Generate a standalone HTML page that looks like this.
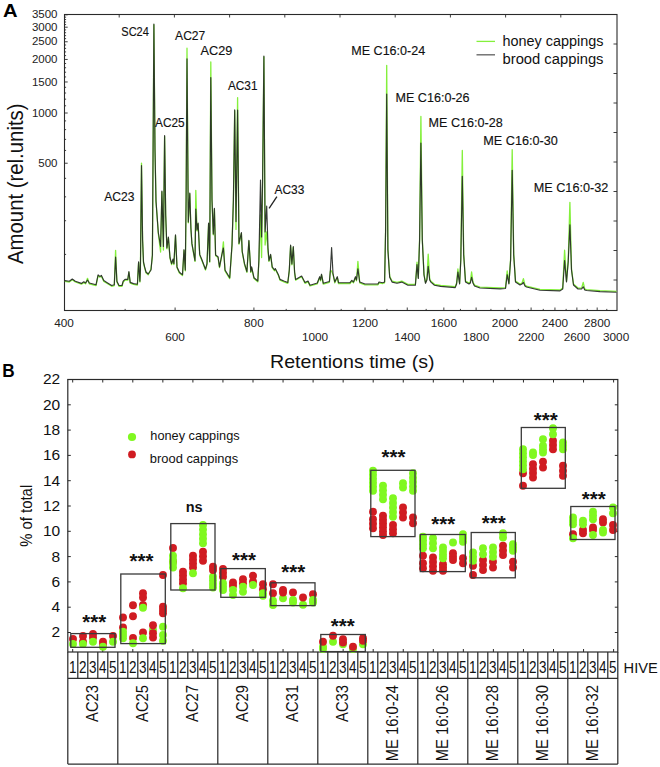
<!DOCTYPE html>
<html><head><meta charset="utf-8"><style>
html,body{margin:0;padding:0;background:#fff;}
svg{display:block;font-family:"Liberation Sans", sans-serif;}
</style></head><body>
<svg width="660" height="767" viewBox="0 0 660 767">
<rect width="660" height="767" fill="#fff"/>
<rect x="64.5" y="14.5" width="552.5" height="296.0" fill="none" stroke="#2a2a2a" stroke-width="1.1"/>
<path d="M64.5,254.42h1.6 M64.5,220.73h1.6 M64.5,196.85h1.6 M64.5,178.34h1.6 M64.5,163.23h3.2 M64.5,150.45h1.6 M64.5,139.38h1.6 M64.5,129.62h1.6 M64.5,120.90h1.6 M64.5,113.00h3.2 M64.5,105.79h1.6 M64.5,99.16h1.6 M64.5,93.03h1.6 M64.5,87.31h1.6 M64.5,81.97h3.2 M64.5,76.95h1.6 M64.5,72.21h1.6 M64.5,67.74h1.6 M64.5,63.49h1.6 M64.5,59.45h3.2 M64.5,55.60h1.6 M64.5,51.92h1.6 M64.5,48.39h1.6 M64.5,45.01h1.6 M64.5,41.77h3.2 M64.5,38.64h1.6 M64.5,35.63h1.6 M64.5,32.73h1.6 M64.5,29.92h1.6 M64.5,27.20h3.2 M64.5,24.58h1.6 M64.5,22.03h1.6 M64.5,19.56h1.6 M64.5,17.16h1.6 M64.5,14.83h3.2" stroke="#2a2a2a" stroke-width="0.9" fill="none"/>
<text x="57.5" y="166.83" text-anchor="end" font-size="11.5" fill="#222">500</text>
<text x="57.5" y="116.60" text-anchor="end" font-size="11.5" fill="#222">1000</text>
<text x="57.5" y="85.57" text-anchor="end" font-size="11.5" fill="#222">1500</text>
<text x="57.5" y="63.05" text-anchor="end" font-size="11.5" fill="#222">2000</text>
<text x="57.5" y="45.37" text-anchor="end" font-size="11.5" fill="#222">2500</text>
<text x="57.5" y="30.80" text-anchor="end" font-size="11.5" fill="#222">3000</text>
<text x="57.5" y="18.43" text-anchor="end" font-size="11.5" fill="#222">3500</text>
<path d="M617,44.00h-3.5 M617,73.50h-3.5 M617,103.00h-3.5 M617,132.50h-3.5 M617,162.00h-3.5 M617,191.50h-3.5 M617,221.00h-3.5 M617,250.50h-3.5 M617,280.00h-3.5" stroke="#2a2a2a" stroke-width="0.9" fill="none"/>
<path d="M119.20,14.5v3 M174.40,14.5v3 M229.60,14.5v3 M284.80,14.5v3 M340.00,14.5v3 M395.20,14.5v3 M450.40,14.5v3 M505.60,14.5v3 M560.80,14.5v3" stroke="#2a2a2a" stroke-width="0.9" fill="none"/>
<path d="M125.14,310.5v-1.6 M175.10,310.5v-3 M217.33,310.5v-1.6 M253.92,310.5v-3 M286.19,310.5v-1.6 M315.06,310.5v-3 M341.18,310.5v-1.6 M365.02,310.5v-3 M386.95,310.5v-1.6 M407.26,310.5v-3 M426.16,310.5v-1.6 M443.84,310.5v-3 M460.46,310.5v-1.6 M476.12,310.5v-3 M490.93,310.5v-1.6 M504.99,310.5v-3 M518.35,310.5v-1.6 M531.10,310.5v-3 M543.28,310.5v-1.6 M554.94,310.5v-3 M566.13,310.5v-1.6 M576.87,310.5v-3 M587.21,310.5v-1.6 M597.18,310.5v-3 M606.79,310.5v-1.6" stroke="#2a2a2a" stroke-width="0.9" fill="none"/>
<text x="64.00" y="327.3" text-anchor="middle" font-size="11.8" fill="#222">400</text>
<text x="175.10" y="341.2" text-anchor="middle" font-size="11.8" fill="#222">600</text>
<text x="253.92" y="327.3" text-anchor="middle" font-size="11.8" fill="#222">800</text>
<text x="315.06" y="341.2" text-anchor="middle" font-size="11.8" fill="#222">1000</text>
<text x="365.02" y="327.3" text-anchor="middle" font-size="11.8" fill="#222">1200</text>
<text x="407.26" y="341.2" text-anchor="middle" font-size="11.8" fill="#222">1400</text>
<text x="443.84" y="327.3" text-anchor="middle" font-size="11.8" fill="#222">1600</text>
<text x="476.12" y="341.2" text-anchor="middle" font-size="11.8" fill="#222">1800</text>
<text x="504.99" y="327.3" text-anchor="middle" font-size="11.8" fill="#222">2000</text>
<text x="531.10" y="341.2" text-anchor="middle" font-size="11.8" fill="#222">2200</text>
<text x="554.94" y="327.3" text-anchor="middle" font-size="11.8" fill="#222">2400</text>
<text x="576.87" y="341.2" text-anchor="middle" font-size="11.8" fill="#222">2600</text>
<text x="597.18" y="327.3" text-anchor="middle" font-size="11.8" fill="#222">2800</text>
<text x="616.08" y="341.2" text-anchor="middle" font-size="11.8" fill="#222">3000</text>
<text x="270" y="368.4" font-size="18.6" fill="#111" textLength="164.5" lengthAdjust="spacingAndGlyphs">Retentions time (s)</text>
<text transform="translate(23.2,264) rotate(-90)" font-size="21.5" fill="#111" textLength="160.5" lengthAdjust="spacingAndGlyphs">Amount (rel.units)</text>
<text x="3.0" y="16.7" font-size="18.8" font-weight="bold" fill="#000" textLength="14.6" lengthAdjust="spacingAndGlyphs">A</text>
<text x="2.3" y="377" font-size="19" font-weight="bold" fill="#000" textLength="12.4" lengthAdjust="spacingAndGlyphs">B</text>
<polyline points="64.80,281.40 69.30,282.00 72.30,279.80 75.30,282.00 81.40,284.20 83.80,282.60 85.60,283.80 87.50,278.30 89.30,283.80 96.00,285.60 98.10,275.70 99.80,277.20 101.40,276.20 103.80,281.40 106.80,283.20 111.70,286.30 114.30,285.60 115.60,250.30 116.90,282.00 119.00,286.30 122.00,286.30 123.20,282.00 125.00,280.20 127.80,280.20 128.90,272.30 130.20,283.20 133.50,284.40 137.40,285.00 138.60,262.60 139.90,282.00 140.40,270.80 141.50,163.10 142.60,240.80 143.50,262.80 144.60,267.60 146.00,272.80 148.20,274.80 151.00,269.00 152.40,255.80 153.90,24.80 155.00,150.80 156.00,201.80 158.30,233.30 160.60,252.00 161.90,191.80 163.40,250.00 164.60,136.40 165.70,215.80 166.90,248.80 168.40,237.80 170.00,258.30 171.60,264.50 173.10,259.80 173.90,264.50 175.50,235.60 177.00,267.70 179.40,273.10 182.50,275.50 184.00,250.50 185.30,270.80 186.10,200.80 187.00,48.20 188.30,222.80 189.80,193.80 190.90,228.80 191.90,244.20 195.00,261.40 195.80,190.30 197.00,230.80 198.10,223.80 199.70,255.20 201.60,259.80 205.50,270.00 207.00,264.50 208.60,223.80 209.70,262.20 210.80,61.90 212.00,200.80 213.30,234.80 214.40,209.10 215.60,255.80 218.00,257.50 219.50,267.70 221.90,255.20 223.40,241.90 225.00,270.80 229.70,278.60 232.00,245.80 233.40,200.80 234.70,110.70 236.00,229.40 237.60,97.60 239.00,244.20 241.40,233.30 242.20,252.05 244.50,264.50 246.90,272.40 248.90,241.10 250.80,272.40 251.60,267.70 254.00,278.60 257.80,281.80 258.90,260.80 260.50,215.00 261.60,257.50 262.60,180.80 263.90,56.80 265.10,245.00 266.70,232.00 268.00,252.00 269.00,261.40 270.60,255.20 272.20,267.70 274.50,270.80 275.30,269.30 278.40,275.50 280.00,280.20 283.90,281.80 287.80,283.30 289.30,270.80 290.60,245.80 291.90,264.80 293.30,247.40 294.60,272.80 295.60,280.20 301.60,276.80 305.00,283.30 308.00,281.80 310.00,286.00 317.30,283.80 319.70,277.50 320.60,280.80 321.50,275.00 323.30,284.10 329.40,282.30 330.40,270.80 331.60,271.00 333.00,274.40 334.80,282.80 337.30,277.50 338.50,283.50 350.00,283.50 351.80,281.10 353.50,282.80 355.50,277.50 356.50,280.80 357.90,261.30 359.70,282.80 365.00,284.80 378.00,284.80 379.00,282.80 382.70,283.50 384.60,282.80 385.60,230.80 386.70,65.30 387.90,249.10 389.70,276.40 392.10,281.20 397.00,282.40 401.80,281.20 407.90,284.30 415.40,284.30 417.00,262.10 418.30,277.60 419.60,239.10 420.90,116.50 422.30,239.10 424.00,274.10 425.50,282.40 426.90,279.10 428.20,254.20 429.70,279.10 430.90,281.20 434.50,284.30 440.60,285.50 455.20,286.70 456.60,283.10 457.90,269.00 459.60,283.10 460.80,259.10 462.30,150.40 463.70,254.10 465.50,281.10 469.00,283.10 470.30,282.10 471.60,272.00 473.00,282.10 474.50,285.10 480.00,287.10 500.00,288.00 505.50,287.60 507.20,270.80 508.90,283.10 510.60,259.10 512.20,149.70 513.70,254.10 515.50,281.10 520.00,284.10 522.00,283.10 523.40,278.60 525.00,285.10 526.50,286.10 540.00,289.40 560.00,290.00 562.70,288.10 564.60,250.20 566.50,281.10 568.20,261.10 569.90,202.30 571.50,269.10 573.50,284.10 578.00,288.10 581.60,288.10 583.20,282.40 584.80,289.10 586.50,289.60 600.00,290.70 616.50,291.40" fill="none" stroke="#84f03c" stroke-width="1.3" stroke-linejoin="round"/>
<polyline points="64.80,280.60 69.30,281.20 72.30,279.00 75.30,281.20 81.40,283.40 83.80,281.80 85.60,283.00 87.50,280.00 89.30,283.00 96.00,284.80 98.10,274.90 99.80,276.40 101.40,275.40 103.80,280.60 106.80,282.40 111.70,285.50 114.30,284.80 115.60,257.00 116.90,281.20 119.00,285.50 122.00,285.50 123.20,281.20 125.00,279.40 127.80,279.40 128.90,271.50 130.20,282.40 133.50,283.60 137.40,284.20 138.60,261.80 139.90,281.20 140.40,270.00 141.50,165.50 142.60,240.00 143.50,262.00 144.60,266.80 146.00,272.00 148.20,274.00 151.00,270.00 152.40,255.00 153.90,24.00 155.00,150.00 156.00,201.00 158.30,232.50 160.60,246.50 161.90,191.00 163.40,246.50 164.60,135.60 165.70,215.00 166.90,248.00 168.40,237.00 170.00,257.50 171.60,263.70 173.10,259.00 173.90,263.70 175.50,234.80 177.00,266.90 179.40,272.30 182.50,274.70 184.00,249.70 185.30,270.00 186.10,200.00 187.00,58.90 188.30,222.00 189.80,193.00 190.90,228.00 191.90,243.40 195.00,260.60 195.80,209.00 197.00,230.00 198.10,223.00 199.70,254.40 201.60,259.00 205.50,269.20 207.00,263.70 208.60,223.00 209.70,261.40 210.80,77.50 212.00,200.00 213.30,234.00 214.40,208.30 215.60,255.00 218.00,256.70 219.50,266.90 221.90,254.40 223.40,248.00 225.00,270.00 229.70,277.80 232.00,245.00 233.40,200.00 234.70,109.90 236.00,221.60 237.60,110.00 239.00,243.40 241.40,232.50 242.20,251.25 244.50,263.70 246.90,271.60 248.90,240.30 250.80,271.60 251.60,266.90 254.00,277.80 257.80,281.00 258.90,260.00 260.50,180.00 261.60,237.00 262.60,180.00 263.90,56.00 265.10,232.00 266.70,206.00 268.00,248.00 269.00,260.60 270.60,254.40 272.20,266.90 274.50,270.00 275.30,268.50 278.40,274.70 280.00,279.40 283.90,281.00 287.80,282.50 289.30,270.00 290.60,245.00 291.90,264.00 293.30,246.60 294.60,272.00 295.60,279.40 301.60,276.00 305.00,282.50 308.00,281.00 310.00,285.20 317.30,283.00 319.70,276.70 320.60,280.00 321.50,274.20 323.30,283.30 329.40,281.50 330.40,270.00 331.60,247.60 333.00,273.60 334.80,282.00 337.30,276.70 338.50,282.70 350.00,282.70 351.80,280.30 353.50,282.00 355.50,276.70 356.50,280.00 357.90,268.80 359.70,282.00 365.00,284.00 378.00,284.00 379.00,282.00 382.70,282.70 384.60,282.00 385.60,230.00 386.70,94.00 387.90,250.00 389.70,277.30 392.10,282.10 397.00,283.30 401.80,282.10 407.90,285.20 415.40,285.20 417.00,264.50 418.30,278.50 419.60,240.00 420.90,143.00 422.30,240.00 424.00,275.00 425.50,283.30 426.90,280.00 428.20,266.40 429.70,280.00 430.90,282.10 434.50,285.20 440.60,286.40 455.20,287.60 456.60,284.00 457.90,272.00 459.60,284.00 460.80,260.00 462.30,176.40 463.70,255.00 465.50,282.00 469.00,284.00 470.30,283.00 471.60,277.30 473.00,283.00 474.50,286.00 480.00,288.00 500.00,288.90 505.50,288.50 507.20,274.70 508.90,284.00 510.60,260.00 512.20,170.30 513.70,255.00 515.50,282.00 520.00,285.00 522.00,284.00 523.40,282.40 525.00,286.00 526.50,287.00 540.00,290.30 560.00,290.90 562.70,289.00 564.60,260.50 566.50,282.00 568.20,262.00 569.90,224.80 571.50,270.00 573.50,285.00 578.00,289.00 581.60,289.00 583.20,286.80 584.80,290.00 586.50,290.50 600.00,291.60 616.50,292.30" fill="none" stroke="#262a26" stroke-width="1.15" stroke-opacity="0.92" stroke-linejoin="round"/>
<text x="121.30" y="35.8" font-size="13.1" fill="#111" stroke="#111" stroke-width="0.15" textLength="27.60" lengthAdjust="spacingAndGlyphs">SC24</text>
<text x="175.10" y="40" font-size="13.1" fill="#111" stroke="#111" stroke-width="0.15" textLength="30.20" lengthAdjust="spacingAndGlyphs">AC27</text>
<text x="200.50" y="55" font-size="13.1" fill="#111" stroke="#111" stroke-width="0.15" textLength="31.80" lengthAdjust="spacingAndGlyphs">AC29</text>
<text x="155.10" y="127" font-size="13.1" fill="#111" stroke="#111" stroke-width="0.15" textLength="29.60" lengthAdjust="spacingAndGlyphs">AC25</text>
<text x="227.90" y="90" font-size="13.1" fill="#111" stroke="#111" stroke-width="0.15" textLength="29.60" lengthAdjust="spacingAndGlyphs">AC31</text>
<text x="274.50" y="193.7" font-size="13.1" fill="#111" stroke="#111" stroke-width="0.15" textLength="29.80" lengthAdjust="spacingAndGlyphs">AC33</text>
<text x="104.20" y="201.1" font-size="13.1" fill="#111" stroke="#111" stroke-width="0.15" textLength="30.20" lengthAdjust="spacingAndGlyphs">AC23</text>
<text x="351.20" y="55" font-size="13.1" fill="#111" stroke="#111" stroke-width="0.15" textLength="74.10" lengthAdjust="spacingAndGlyphs">ME C16:0-24</text>
<text x="395.50" y="101.9" font-size="13.1" fill="#111" stroke="#111" stroke-width="0.15" textLength="74.10" lengthAdjust="spacingAndGlyphs">ME C16:0-26</text>
<text x="428.60" y="126.7" font-size="13.1" fill="#111" stroke="#111" stroke-width="0.15" textLength="74.20" lengthAdjust="spacingAndGlyphs">ME C16:0-28</text>
<text x="483.30" y="144.8" font-size="13.1" fill="#111" stroke="#111" stroke-width="0.15" textLength="74.60" lengthAdjust="spacingAndGlyphs">ME C16:0-30</text>
<text x="533.70" y="192" font-size="13.1" fill="#111" stroke="#111" stroke-width="0.15" textLength="74.60" lengthAdjust="spacingAndGlyphs">ME C16:0-32</text>
<path d="M276.9,196.6L269.1,208.3" stroke="#222" stroke-width="1.3"/>
<path d="M476.5,41.4H495" stroke="#84f03c" stroke-width="1.3"/>
<path d="M476.5,54.8H495" stroke="#6a6a6a" stroke-width="1.4"/>
<text x="502.5" y="45.5" font-size="14" fill="#111" textLength="101" lengthAdjust="spacingAndGlyphs">honey cappings</text>
<text x="502.5" y="64.2" font-size="14" fill="#111" textLength="101" lengthAdjust="spacingAndGlyphs">brood cappings</text>
<rect x="67.8" y="379.5" width="550.0" height="272.5" fill="none" stroke="#2a2a2a" stroke-width="1.2"/>
<text x="60.2" y="637.40" text-anchor="end" font-size="15.5" fill="#111">2</text>
<text x="60.2" y="612.10" text-anchor="end" font-size="15.5" fill="#111">4</text>
<text x="60.2" y="586.80" text-anchor="end" font-size="15.5" fill="#111">6</text>
<text x="60.2" y="561.50" text-anchor="end" font-size="15.5" fill="#111">8</text>
<text x="60.2" y="536.20" text-anchor="end" font-size="15.5" fill="#111">10</text>
<text x="60.2" y="510.90" text-anchor="end" font-size="15.5" fill="#111">12</text>
<text x="60.2" y="485.60" text-anchor="end" font-size="15.5" fill="#111">14</text>
<text x="60.2" y="460.30" text-anchor="end" font-size="15.5" fill="#111">16</text>
<text x="60.2" y="435.00" text-anchor="end" font-size="15.5" fill="#111">18</text>
<text x="60.2" y="409.70" text-anchor="end" font-size="15.5" fill="#111">20</text>
<text x="60.2" y="384.40" text-anchor="end" font-size="15.5" fill="#111">22</text>
<path d="M67.8,632.50h3M617.8,632.50h-3M67.8,607.20h3M617.8,607.20h-3M67.8,581.90h3M617.8,581.90h-3M67.8,556.60h3M617.8,556.60h-3M67.8,531.30h3M617.8,531.30h-3M67.8,506.00h3M617.8,506.00h-3M67.8,480.70h3M617.8,480.70h-3M67.8,455.40h3M617.8,455.40h-3M67.8,430.10h3M617.8,430.10h-3M67.8,404.80h3M617.8,404.80h-3M67.8,379.50h3M617.8,379.50h-3M72.70,379.5v3M72.70,652v-3M102.75,379.5v3M102.75,652v-3M132.80,379.5v3M132.80,652v-3M162.85,379.5v3M162.85,652v-3M192.90,379.5v3M192.90,652v-3M222.95,379.5v3M222.95,652v-3M253.00,379.5v3M253.00,652v-3M283.05,379.5v3M283.05,652v-3M313.10,379.5v3M313.10,652v-3M343.15,379.5v3M343.15,652v-3M373.20,379.5v3M373.20,652v-3M403.25,379.5v3M403.25,652v-3M433.30,379.5v3M433.30,652v-3M463.35,379.5v3M463.35,652v-3M493.40,379.5v3M493.40,652v-3M523.45,379.5v3M523.45,652v-3M553.50,379.5v3M553.50,652v-3M583.55,379.5v3M583.55,652v-3M613.60,379.5v3M613.60,652v-3" stroke="#2a2a2a" stroke-width="1" fill="none"/>
<text transform="translate(31.9,546.8) rotate(-90)" font-size="16.3" fill="#111" textLength="62" lengthAdjust="spacingAndGlyphs">% of total</text>
<circle cx="132" cy="437" r="4.1" fill="#80f820"/>
<circle cx="132" cy="454.4" r="3.9" fill="#d01c22"/>
<text x="150.3" y="439.5" font-size="13.5" fill="#111" textLength="89.3" lengthAdjust="spacingAndGlyphs">honey cappings</text>
<text x="149.8" y="463.2" font-size="13.5" fill="#111" textLength="88.3" lengthAdjust="spacingAndGlyphs">brood cappings</text>
<circle cx="73" cy="639.00" r="3.95" fill="#d01c22"/>
<circle cx="73" cy="644.00" r="3.95" fill="#80f820"/>
<circle cx="83" cy="636.00" r="3.95" fill="#d01c22"/>
<circle cx="83" cy="641.70" r="3.95" fill="#d01c22"/>
<circle cx="83" cy="644.00" r="3.95" fill="#80f820"/>
<circle cx="93" cy="634.00" r="3.95" fill="#d01c22"/>
<circle cx="93" cy="637.50" r="3.95" fill="#d01c22"/>
<circle cx="93" cy="641.70" r="3.95" fill="#80f820"/>
<circle cx="103" cy="641.70" r="3.95" fill="#d01c22"/>
<circle cx="103" cy="645.00" r="3.95" fill="#d01c22"/>
<circle cx="103" cy="646.70" r="3.95" fill="#80f820"/>
<circle cx="113" cy="636.00" r="3.95" fill="#d01c22"/>
<circle cx="113" cy="641.70" r="3.95" fill="#80f820"/>
<circle cx="123" cy="617.50" r="3.95" fill="#d01c22"/>
<circle cx="123" cy="627.50" r="3.95" fill="#d01c22"/>
<circle cx="123" cy="631.70" r="3.95" fill="#80f820"/>
<circle cx="123" cy="635.00" r="3.95" fill="#80f820"/>
<circle cx="123" cy="638.30" r="3.95" fill="#80f820"/>
<circle cx="133" cy="605.30" r="3.95" fill="#d01c22"/>
<circle cx="133" cy="616.30" r="3.95" fill="#d01c22"/>
<circle cx="133" cy="638.00" r="3.95" fill="#d01c22"/>
<circle cx="133" cy="643.30" r="3.95" fill="#80f820"/>
<circle cx="143" cy="593.30" r="3.95" fill="#d01c22"/>
<circle cx="143" cy="597.50" r="3.95" fill="#d01c22"/>
<circle cx="143" cy="605.00" r="3.95" fill="#d01c22"/>
<circle cx="143" cy="632.50" r="3.95" fill="#d01c22"/>
<circle cx="143" cy="607.80" r="3.95" fill="#80f820"/>
<circle cx="143" cy="638.30" r="3.95" fill="#80f820"/>
<circle cx="153" cy="630.00" r="3.95" fill="#80f820"/>
<circle cx="153" cy="625.30" r="3.95" fill="#d01c22"/>
<circle cx="153" cy="633.30" r="3.95" fill="#d01c22"/>
<circle cx="153" cy="637.50" r="3.95" fill="#d01c22"/>
<circle cx="163" cy="575.00" r="3.95" fill="#d01c22"/>
<circle cx="163" cy="606.70" r="3.95" fill="#d01c22"/>
<circle cx="163" cy="610.00" r="3.95" fill="#d01c22"/>
<circle cx="163" cy="613.30" r="3.95" fill="#d01c22"/>
<circle cx="163" cy="626.70" r="3.95" fill="#80f820"/>
<circle cx="163" cy="635.00" r="3.95" fill="#80f820"/>
<circle cx="163" cy="640.80" r="3.95" fill="#80f820"/>
<circle cx="173" cy="548.00" r="3.95" fill="#d01c22"/>
<circle cx="173" cy="561.70" r="3.95" fill="#d01c22"/>
<circle cx="173" cy="555.80" r="3.95" fill="#80f820"/>
<circle cx="173" cy="559.70" r="3.95" fill="#80f820"/>
<circle cx="173" cy="563.60" r="3.95" fill="#80f820"/>
<circle cx="173" cy="567.50" r="3.95" fill="#80f820"/>
<circle cx="183" cy="571.70" r="3.95" fill="#d01c22"/>
<circle cx="183" cy="575.57" r="3.95" fill="#d01c22"/>
<circle cx="183" cy="579.43" r="3.95" fill="#d01c22"/>
<circle cx="183" cy="583.30" r="3.95" fill="#d01c22"/>
<circle cx="183" cy="588.30" r="3.95" fill="#80f820"/>
<circle cx="193" cy="555.80" r="3.95" fill="#d01c22"/>
<circle cx="193" cy="559.70" r="3.95" fill="#d01c22"/>
<circle cx="193" cy="563.60" r="3.95" fill="#d01c22"/>
<circle cx="193" cy="567.50" r="3.95" fill="#d01c22"/>
<circle cx="193" cy="573.30" r="3.95" fill="#80f820"/>
<circle cx="203" cy="551.70" r="3.95" fill="#d01c22"/>
<circle cx="203" cy="556.25" r="3.95" fill="#d01c22"/>
<circle cx="203" cy="560.80" r="3.95" fill="#d01c22"/>
<circle cx="203" cy="525.00" r="3.95" fill="#80f820"/>
<circle cx="203" cy="529.58" r="3.95" fill="#80f820"/>
<circle cx="203" cy="534.15" r="3.95" fill="#80f820"/>
<circle cx="203" cy="538.72" r="3.95" fill="#80f820"/>
<circle cx="203" cy="543.30" r="3.95" fill="#80f820"/>
<circle cx="213" cy="576.70" r="3.95" fill="#80f820"/>
<circle cx="213" cy="580.30" r="3.95" fill="#80f820"/>
<circle cx="213" cy="583.90" r="3.95" fill="#80f820"/>
<circle cx="213" cy="587.50" r="3.95" fill="#80f820"/>
<circle cx="213" cy="566.70" r="3.95" fill="#d01c22"/>
<circle cx="213" cy="570.00" r="3.95" fill="#d01c22"/>
<circle cx="223" cy="569.00" r="3.95" fill="#d01c22"/>
<circle cx="223" cy="572.85" r="3.95" fill="#d01c22"/>
<circle cx="223" cy="576.70" r="3.95" fill="#d01c22"/>
<circle cx="223" cy="583.30" r="3.95" fill="#80f820"/>
<circle cx="223" cy="586.65" r="3.95" fill="#80f820"/>
<circle cx="223" cy="590.00" r="3.95" fill="#80f820"/>
<circle cx="233" cy="582.50" r="3.95" fill="#d01c22"/>
<circle cx="233" cy="585.80" r="3.95" fill="#d01c22"/>
<circle cx="233" cy="590.00" r="3.95" fill="#80f820"/>
<circle cx="233" cy="595.00" r="3.95" fill="#80f820"/>
<circle cx="243" cy="579.20" r="3.95" fill="#d01c22"/>
<circle cx="243" cy="583.30" r="3.95" fill="#d01c22"/>
<circle cx="243" cy="586.70" r="3.95" fill="#80f820"/>
<circle cx="243" cy="591.70" r="3.95" fill="#80f820"/>
<circle cx="253" cy="575.80" r="3.95" fill="#d01c22"/>
<circle cx="253" cy="581.70" r="3.95" fill="#d01c22"/>
<circle cx="253" cy="585.00" r="3.95" fill="#80f820"/>
<circle cx="263" cy="584.20" r="3.95" fill="#d01c22"/>
<circle cx="263" cy="589.20" r="3.95" fill="#d01c22"/>
<circle cx="263" cy="593.30" r="3.95" fill="#80f820"/>
<circle cx="263" cy="595.80" r="3.95" fill="#80f820"/>
<circle cx="273" cy="584.20" r="3.95" fill="#d01c22"/>
<circle cx="273" cy="593.30" r="3.95" fill="#d01c22"/>
<circle cx="273" cy="600.80" r="3.95" fill="#80f820"/>
<circle cx="273" cy="605.00" r="3.95" fill="#80f820"/>
<circle cx="283" cy="598.30" r="3.95" fill="#80f820"/>
<circle cx="283" cy="590.00" r="3.95" fill="#d01c22"/>
<circle cx="283" cy="592.50" r="3.95" fill="#d01c22"/>
<circle cx="293" cy="592.50" r="3.95" fill="#d01c22"/>
<circle cx="293" cy="600.00" r="3.95" fill="#80f820"/>
<circle cx="293" cy="602.50" r="3.95" fill="#80f820"/>
<circle cx="303" cy="604.80" r="3.95" fill="#80f820"/>
<circle cx="303" cy="597.50" r="3.95" fill="#d01c22"/>
<circle cx="313" cy="594.20" r="3.95" fill="#d01c22"/>
<circle cx="313" cy="600.00" r="3.95" fill="#80f820"/>
<circle cx="313" cy="602.50" r="3.95" fill="#80f820"/>
<circle cx="323" cy="646.70" r="3.95" fill="#80f820"/>
<circle cx="323" cy="649.00" r="3.95" fill="#80f820"/>
<circle cx="323" cy="641.70" r="3.95" fill="#d01c22"/>
<circle cx="333" cy="641.70" r="3.95" fill="#80f820"/>
<circle cx="333" cy="635.80" r="3.95" fill="#d01c22"/>
<circle cx="343" cy="644.20" r="3.95" fill="#80f820"/>
<circle cx="343" cy="639.20" r="3.95" fill="#d01c22"/>
<circle cx="343" cy="642.50" r="3.95" fill="#d01c22"/>
<circle cx="353" cy="649.00" r="3.95" fill="#80f820"/>
<circle cx="353" cy="646.70" r="3.95" fill="#d01c22"/>
<circle cx="363" cy="644.20" r="3.95" fill="#80f820"/>
<circle cx="363" cy="638.30" r="3.95" fill="#d01c22"/>
<circle cx="363" cy="640.80" r="3.95" fill="#d01c22"/>
<circle cx="373" cy="511.70" r="3.95" fill="#d01c22"/>
<circle cx="373" cy="519.20" r="3.95" fill="#d01c22"/>
<circle cx="373" cy="523.75" r="3.95" fill="#d01c22"/>
<circle cx="373" cy="528.30" r="3.95" fill="#d01c22"/>
<circle cx="373" cy="470.80" r="3.95" fill="#80f820"/>
<circle cx="373" cy="474.80" r="3.95" fill="#80f820"/>
<circle cx="373" cy="478.80" r="3.95" fill="#80f820"/>
<circle cx="373" cy="482.80" r="3.95" fill="#80f820"/>
<circle cx="373" cy="486.80" r="3.95" fill="#80f820"/>
<circle cx="373" cy="490.80" r="3.95" fill="#80f820"/>
<circle cx="383" cy="515.80" r="3.95" fill="#d01c22"/>
<circle cx="383" cy="519.64" r="3.95" fill="#d01c22"/>
<circle cx="383" cy="523.48" r="3.95" fill="#d01c22"/>
<circle cx="383" cy="527.32" r="3.95" fill="#d01c22"/>
<circle cx="383" cy="531.16" r="3.95" fill="#d01c22"/>
<circle cx="383" cy="535.00" r="3.95" fill="#d01c22"/>
<circle cx="383" cy="485.80" r="3.95" fill="#80f820"/>
<circle cx="383" cy="490.27" r="3.95" fill="#80f820"/>
<circle cx="383" cy="494.73" r="3.95" fill="#80f820"/>
<circle cx="383" cy="499.20" r="3.95" fill="#80f820"/>
<circle cx="393" cy="525.00" r="3.95" fill="#d01c22"/>
<circle cx="393" cy="529.15" r="3.95" fill="#d01c22"/>
<circle cx="393" cy="533.30" r="3.95" fill="#d01c22"/>
<circle cx="393" cy="498.30" r="3.95" fill="#80f820"/>
<circle cx="393" cy="502.90" r="3.95" fill="#80f820"/>
<circle cx="393" cy="507.50" r="3.95" fill="#80f820"/>
<circle cx="393" cy="512.10" r="3.95" fill="#80f820"/>
<circle cx="393" cy="516.70" r="3.95" fill="#80f820"/>
<circle cx="403" cy="507.50" r="3.95" fill="#d01c22"/>
<circle cx="403" cy="512.50" r="3.95" fill="#d01c22"/>
<circle cx="403" cy="517.50" r="3.95" fill="#d01c22"/>
<circle cx="403" cy="483.30" r="3.95" fill="#80f820"/>
<circle cx="403" cy="487.50" r="3.95" fill="#80f820"/>
<circle cx="413" cy="517.50" r="3.95" fill="#d01c22"/>
<circle cx="413" cy="523.30" r="3.95" fill="#d01c22"/>
<circle cx="413" cy="473.30" r="3.95" fill="#80f820"/>
<circle cx="413" cy="477.68" r="3.95" fill="#80f820"/>
<circle cx="413" cy="482.05" r="3.95" fill="#80f820"/>
<circle cx="413" cy="486.43" r="3.95" fill="#80f820"/>
<circle cx="413" cy="490.80" r="3.95" fill="#80f820"/>
<circle cx="423" cy="555.80" r="3.95" fill="#d01c22"/>
<circle cx="423" cy="563.30" r="3.95" fill="#d01c22"/>
<circle cx="423" cy="568.30" r="3.95" fill="#d01c22"/>
<circle cx="423" cy="536.70" r="3.95" fill="#80f820"/>
<circle cx="423" cy="540.57" r="3.95" fill="#80f820"/>
<circle cx="423" cy="544.43" r="3.95" fill="#80f820"/>
<circle cx="423" cy="548.30" r="3.95" fill="#80f820"/>
<circle cx="433" cy="557.50" r="3.95" fill="#d01c22"/>
<circle cx="433" cy="561.93" r="3.95" fill="#d01c22"/>
<circle cx="433" cy="566.37" r="3.95" fill="#d01c22"/>
<circle cx="433" cy="570.80" r="3.95" fill="#d01c22"/>
<circle cx="433" cy="538.30" r="3.95" fill="#80f820"/>
<circle cx="433" cy="543.30" r="3.95" fill="#80f820"/>
<circle cx="433" cy="548.30" r="3.95" fill="#80f820"/>
<circle cx="443" cy="564.20" r="3.95" fill="#d01c22"/>
<circle cx="443" cy="567.50" r="3.95" fill="#d01c22"/>
<circle cx="443" cy="570.80" r="3.95" fill="#d01c22"/>
<circle cx="443" cy="547.50" r="3.95" fill="#80f820"/>
<circle cx="443" cy="551.10" r="3.95" fill="#80f820"/>
<circle cx="443" cy="554.70" r="3.95" fill="#80f820"/>
<circle cx="443" cy="558.30" r="3.95" fill="#80f820"/>
<circle cx="453" cy="553.30" r="3.95" fill="#d01c22"/>
<circle cx="453" cy="556.65" r="3.95" fill="#d01c22"/>
<circle cx="453" cy="560.00" r="3.95" fill="#d01c22"/>
<circle cx="453" cy="542.50" r="3.95" fill="#80f820"/>
<circle cx="463" cy="558.30" r="3.95" fill="#d01c22"/>
<circle cx="463" cy="563.30" r="3.95" fill="#d01c22"/>
<circle cx="463" cy="534.20" r="3.95" fill="#80f820"/>
<circle cx="463" cy="537.95" r="3.95" fill="#80f820"/>
<circle cx="463" cy="541.70" r="3.95" fill="#80f820"/>
<circle cx="473" cy="565.80" r="3.95" fill="#d01c22"/>
<circle cx="473" cy="575.00" r="3.95" fill="#d01c22"/>
<circle cx="473" cy="552.50" r="3.95" fill="#80f820"/>
<circle cx="473" cy="556.65" r="3.95" fill="#80f820"/>
<circle cx="473" cy="560.80" r="3.95" fill="#80f820"/>
<circle cx="483" cy="560.00" r="3.95" fill="#d01c22"/>
<circle cx="483" cy="565.00" r="3.95" fill="#d01c22"/>
<circle cx="483" cy="570.00" r="3.95" fill="#d01c22"/>
<circle cx="483" cy="548.30" r="3.95" fill="#80f820"/>
<circle cx="483" cy="554.20" r="3.95" fill="#80f820"/>
<circle cx="493" cy="561.70" r="3.95" fill="#d01c22"/>
<circle cx="493" cy="567.50" r="3.95" fill="#d01c22"/>
<circle cx="493" cy="547.50" r="3.95" fill="#80f820"/>
<circle cx="493" cy="552.10" r="3.95" fill="#80f820"/>
<circle cx="493" cy="556.70" r="3.95" fill="#80f820"/>
<circle cx="503" cy="545.80" r="3.95" fill="#d01c22"/>
<circle cx="503" cy="550.40" r="3.95" fill="#d01c22"/>
<circle cx="503" cy="555.00" r="3.95" fill="#d01c22"/>
<circle cx="503" cy="533.30" r="3.95" fill="#80f820"/>
<circle cx="503" cy="537.50" r="3.95" fill="#80f820"/>
<circle cx="513" cy="561.70" r="3.95" fill="#d01c22"/>
<circle cx="513" cy="567.50" r="3.95" fill="#d01c22"/>
<circle cx="513" cy="544.20" r="3.95" fill="#80f820"/>
<circle cx="513" cy="547.50" r="3.95" fill="#80f820"/>
<circle cx="513" cy="550.80" r="3.95" fill="#80f820"/>
<circle cx="523" cy="473.30" r="3.95" fill="#d01c22"/>
<circle cx="523" cy="485.80" r="3.95" fill="#d01c22"/>
<circle cx="523" cy="449.20" r="3.95" fill="#80f820"/>
<circle cx="523" cy="453.20" r="3.95" fill="#80f820"/>
<circle cx="523" cy="457.20" r="3.95" fill="#80f820"/>
<circle cx="523" cy="461.20" r="3.95" fill="#80f820"/>
<circle cx="523" cy="465.20" r="3.95" fill="#80f820"/>
<circle cx="523" cy="469.20" r="3.95" fill="#80f820"/>
<circle cx="533" cy="464.20" r="3.95" fill="#d01c22"/>
<circle cx="533" cy="468.63" r="3.95" fill="#d01c22"/>
<circle cx="533" cy="473.07" r="3.95" fill="#d01c22"/>
<circle cx="533" cy="477.50" r="3.95" fill="#d01c22"/>
<circle cx="533" cy="452.50" r="3.95" fill="#80f820"/>
<circle cx="533" cy="455.00" r="3.95" fill="#80f820"/>
<circle cx="543" cy="461.70" r="3.95" fill="#d01c22"/>
<circle cx="543" cy="467.50" r="3.95" fill="#d01c22"/>
<circle cx="543" cy="439.20" r="3.95" fill="#80f820"/>
<circle cx="543" cy="445.80" r="3.95" fill="#80f820"/>
<circle cx="543" cy="449.15" r="3.95" fill="#80f820"/>
<circle cx="543" cy="452.50" r="3.95" fill="#80f820"/>
<circle cx="553" cy="440.80" r="3.95" fill="#d01c22"/>
<circle cx="553" cy="445.00" r="3.95" fill="#d01c22"/>
<circle cx="553" cy="449.20" r="3.95" fill="#d01c22"/>
<circle cx="553" cy="428.30" r="3.95" fill="#80f820"/>
<circle cx="553" cy="434.20" r="3.95" fill="#80f820"/>
<circle cx="563" cy="465.80" r="3.95" fill="#d01c22"/>
<circle cx="563" cy="470.80" r="3.95" fill="#d01c22"/>
<circle cx="563" cy="475.80" r="3.95" fill="#d01c22"/>
<circle cx="563" cy="442.50" r="3.95" fill="#80f820"/>
<circle cx="563" cy="445.85" r="3.95" fill="#80f820"/>
<circle cx="563" cy="449.20" r="3.95" fill="#80f820"/>
<circle cx="573" cy="534.20" r="3.95" fill="#d01c22"/>
<circle cx="573" cy="517.50" r="3.95" fill="#80f820"/>
<circle cx="573" cy="520.85" r="3.95" fill="#80f820"/>
<circle cx="573" cy="524.20" r="3.95" fill="#80f820"/>
<circle cx="573" cy="538.30" r="3.95" fill="#80f820"/>
<circle cx="583" cy="530.00" r="3.95" fill="#d01c22"/>
<circle cx="583" cy="533.30" r="3.95" fill="#d01c22"/>
<circle cx="583" cy="520.80" r="3.95" fill="#80f820"/>
<circle cx="583" cy="524.20" r="3.95" fill="#80f820"/>
<circle cx="593" cy="527.50" r="3.95" fill="#d01c22"/>
<circle cx="593" cy="530.00" r="3.95" fill="#d01c22"/>
<circle cx="593" cy="511.70" r="3.95" fill="#80f820"/>
<circle cx="593" cy="515.45" r="3.95" fill="#80f820"/>
<circle cx="593" cy="519.20" r="3.95" fill="#80f820"/>
<circle cx="593" cy="535.00" r="3.95" fill="#80f820"/>
<circle cx="603" cy="519.20" r="3.95" fill="#d01c22"/>
<circle cx="603" cy="522.50" r="3.95" fill="#d01c22"/>
<circle cx="603" cy="530.00" r="3.95" fill="#80f820"/>
<circle cx="603" cy="532.50" r="3.95" fill="#80f820"/>
<circle cx="613" cy="525.00" r="3.95" fill="#d01c22"/>
<circle cx="613" cy="530.00" r="3.95" fill="#d01c22"/>
<circle cx="613" cy="507.50" r="3.95" fill="#80f820"/>
<circle cx="613" cy="513.30" r="3.95" fill="#80f820"/>
<rect x="70.8" y="633.60" width="44.20" height="13.70" fill="none" stroke="#3a3a3a" stroke-width="1.3"/>
<rect x="120.8" y="574.00" width="44.50" height="69.60" fill="none" stroke="#3a3a3a" stroke-width="1.3"/>
<rect x="170.8" y="523.60" width="44.20" height="66.40" fill="none" stroke="#3a3a3a" stroke-width="1.3"/>
<rect x="220.8" y="568.60" width="44.50" height="28.70" fill="none" stroke="#3a3a3a" stroke-width="1.3"/>
<rect x="270.8" y="582.80" width="44.20" height="22.80" fill="none" stroke="#3a3a3a" stroke-width="1.3"/>
<rect x="320.8" y="634.50" width="44.50" height="17.10" fill="none" stroke="#3a3a3a" stroke-width="1.3"/>
<rect x="370.8" y="470.30" width="44.20" height="66.30" fill="none" stroke="#3a3a3a" stroke-width="1.3"/>
<rect x="420.3" y="534.50" width="45.00" height="37.10" fill="none" stroke="#3a3a3a" stroke-width="1.3"/>
<rect x="471.2" y="532.50" width="44.10" height="45.30" fill="none" stroke="#3a3a3a" stroke-width="1.3"/>
<rect x="521.3" y="427.50" width="44.00" height="60.80" fill="none" stroke="#3a3a3a" stroke-width="1.3"/>
<rect x="570.8" y="506.50" width="44.20" height="33.00" fill="none" stroke="#3a3a3a" stroke-width="1.3"/>
<text x="94.2" y="629.10" text-anchor="middle" font-size="20.5" font-weight="bold" fill="#111">***</text>
<text x="141.5" y="568.30" text-anchor="middle" font-size="20.5" font-weight="bold" fill="#111">***</text>
<text x="194.2" y="511.50" text-anchor="middle" font-size="14.5" font-weight="bold" fill="#111">ns</text>
<text x="243.9" y="566.80" text-anchor="middle" font-size="20.5" font-weight="bold" fill="#111">***</text>
<text x="293.3" y="579.10" text-anchor="middle" font-size="20.5" font-weight="bold" fill="#111">***</text>
<text x="342.8" y="632.90" text-anchor="middle" font-size="20.5" font-weight="bold" fill="#111">***</text>
<text x="393.5" y="464.10" text-anchor="middle" font-size="20.5" font-weight="bold" fill="#111">***</text>
<text x="443.3" y="530.80" text-anchor="middle" font-size="20.5" font-weight="bold" fill="#111">***</text>
<text x="493.8" y="530.40" text-anchor="middle" font-size="20.5" font-weight="bold" fill="#111">***</text>
<text x="545.8" y="427.10" text-anchor="middle" font-size="20.5" font-weight="bold" fill="#111">***</text>
<text x="593.7" y="505.80" text-anchor="middle" font-size="20.5" font-weight="bold" fill="#111">***</text>
<path d="M67.8,678.3H617.8M67.8,764H617.8M67.8,652V764M77.8,652V678.3M87.8,652V678.3M97.8,652V678.3M107.8,652V678.3M117.8,652V764M127.8,652V678.3M137.8,652V678.3M147.8,652V678.3M157.8,652V678.3M167.8,652V764M177.8,652V678.3M187.8,652V678.3M197.8,652V678.3M207.8,652V678.3M217.8,652V764M227.8,652V678.3M237.8,652V678.3M247.8,652V678.3M257.8,652V678.3M267.8,652V764M277.8,652V678.3M287.8,652V678.3M297.8,652V678.3M307.8,652V678.3M317.8,652V764M327.8,652V678.3M337.8,652V678.3M347.8,652V678.3M357.8,652V678.3M367.8,652V764M377.8,652V678.3M387.8,652V678.3M397.8,652V678.3M407.8,652V678.3M417.8,652V764M427.8,652V678.3M437.8,652V678.3M447.8,652V678.3M457.8,652V678.3M467.8,652V764M477.8,652V678.3M487.8,652V678.3M497.8,652V678.3M507.8,652V678.3M517.8,652V764M527.8,652V678.3M537.8,652V678.3M547.8,652V678.3M557.8,652V678.3M567.8,652V764M577.8,652V678.3M587.8,652V678.3M597.8,652V678.3M607.8,652V678.3M617.8,652V764" stroke="#2e2e2e" stroke-width="1.25" fill="none"/>
<text x="69.1" y="673.4" font-size="15.7" fill="#111" textLength="7.5" lengthAdjust="spacingAndGlyphs">1</text>
<text x="79.1" y="673.4" font-size="15.7" fill="#111" textLength="7.5" lengthAdjust="spacingAndGlyphs">2</text>
<text x="89.1" y="673.4" font-size="15.7" fill="#111" textLength="7.5" lengthAdjust="spacingAndGlyphs">3</text>
<text x="99.1" y="673.4" font-size="15.7" fill="#111" textLength="7.5" lengthAdjust="spacingAndGlyphs">4</text>
<text x="109.1" y="673.4" font-size="15.7" fill="#111" textLength="7.5" lengthAdjust="spacingAndGlyphs">5</text>
<text transform="translate(97.7,721.9) rotate(-90)" font-size="16.4" fill="#111" textLength="36.9" lengthAdjust="spacingAndGlyphs">AC23</text>
<text x="119.1" y="673.4" font-size="15.7" fill="#111" textLength="7.5" lengthAdjust="spacingAndGlyphs">1</text>
<text x="129.1" y="673.4" font-size="15.7" fill="#111" textLength="7.5" lengthAdjust="spacingAndGlyphs">2</text>
<text x="139.1" y="673.4" font-size="15.7" fill="#111" textLength="7.5" lengthAdjust="spacingAndGlyphs">3</text>
<text x="149.1" y="673.4" font-size="15.7" fill="#111" textLength="7.5" lengthAdjust="spacingAndGlyphs">4</text>
<text x="159.1" y="673.4" font-size="15.7" fill="#111" textLength="7.5" lengthAdjust="spacingAndGlyphs">5</text>
<text transform="translate(147.7,721.9) rotate(-90)" font-size="16.4" fill="#111" textLength="36.9" lengthAdjust="spacingAndGlyphs">AC25</text>
<text x="169.1" y="673.4" font-size="15.7" fill="#111" textLength="7.5" lengthAdjust="spacingAndGlyphs">1</text>
<text x="179.1" y="673.4" font-size="15.7" fill="#111" textLength="7.5" lengthAdjust="spacingAndGlyphs">2</text>
<text x="189.1" y="673.4" font-size="15.7" fill="#111" textLength="7.5" lengthAdjust="spacingAndGlyphs">3</text>
<text x="199.1" y="673.4" font-size="15.7" fill="#111" textLength="7.5" lengthAdjust="spacingAndGlyphs">4</text>
<text x="209.1" y="673.4" font-size="15.7" fill="#111" textLength="7.5" lengthAdjust="spacingAndGlyphs">5</text>
<text transform="translate(197.7,721.9) rotate(-90)" font-size="16.4" fill="#111" textLength="36.9" lengthAdjust="spacingAndGlyphs">AC27</text>
<text x="219.1" y="673.4" font-size="15.7" fill="#111" textLength="7.5" lengthAdjust="spacingAndGlyphs">1</text>
<text x="229.1" y="673.4" font-size="15.7" fill="#111" textLength="7.5" lengthAdjust="spacingAndGlyphs">2</text>
<text x="239.1" y="673.4" font-size="15.7" fill="#111" textLength="7.5" lengthAdjust="spacingAndGlyphs">3</text>
<text x="249.1" y="673.4" font-size="15.7" fill="#111" textLength="7.5" lengthAdjust="spacingAndGlyphs">4</text>
<text x="259.1" y="673.4" font-size="15.7" fill="#111" textLength="7.5" lengthAdjust="spacingAndGlyphs">5</text>
<text transform="translate(247.7,721.9) rotate(-90)" font-size="16.4" fill="#111" textLength="36.9" lengthAdjust="spacingAndGlyphs">AC29</text>
<text x="269.1" y="673.4" font-size="15.7" fill="#111" textLength="7.5" lengthAdjust="spacingAndGlyphs">1</text>
<text x="279.1" y="673.4" font-size="15.7" fill="#111" textLength="7.5" lengthAdjust="spacingAndGlyphs">2</text>
<text x="289.1" y="673.4" font-size="15.7" fill="#111" textLength="7.5" lengthAdjust="spacingAndGlyphs">3</text>
<text x="299.1" y="673.4" font-size="15.7" fill="#111" textLength="7.5" lengthAdjust="spacingAndGlyphs">4</text>
<text x="309.1" y="673.4" font-size="15.7" fill="#111" textLength="7.5" lengthAdjust="spacingAndGlyphs">5</text>
<text transform="translate(297.7,721.9) rotate(-90)" font-size="16.4" fill="#111" textLength="36.9" lengthAdjust="spacingAndGlyphs">AC31</text>
<text x="319.1" y="673.4" font-size="15.7" fill="#111" textLength="7.5" lengthAdjust="spacingAndGlyphs">1</text>
<text x="329.1" y="673.4" font-size="15.7" fill="#111" textLength="7.5" lengthAdjust="spacingAndGlyphs">2</text>
<text x="339.1" y="673.4" font-size="15.7" fill="#111" textLength="7.5" lengthAdjust="spacingAndGlyphs">3</text>
<text x="349.1" y="673.4" font-size="15.7" fill="#111" textLength="7.5" lengthAdjust="spacingAndGlyphs">4</text>
<text x="359.1" y="673.4" font-size="15.7" fill="#111" textLength="7.5" lengthAdjust="spacingAndGlyphs">5</text>
<text transform="translate(347.7,721.9) rotate(-90)" font-size="16.4" fill="#111" textLength="36.9" lengthAdjust="spacingAndGlyphs">AC33</text>
<text x="369.1" y="673.4" font-size="15.7" fill="#111" textLength="7.5" lengthAdjust="spacingAndGlyphs">1</text>
<text x="379.1" y="673.4" font-size="15.7" fill="#111" textLength="7.5" lengthAdjust="spacingAndGlyphs">2</text>
<text x="389.1" y="673.4" font-size="15.7" fill="#111" textLength="7.5" lengthAdjust="spacingAndGlyphs">3</text>
<text x="399.1" y="673.4" font-size="15.7" fill="#111" textLength="7.5" lengthAdjust="spacingAndGlyphs">4</text>
<text x="409.1" y="673.4" font-size="15.7" fill="#111" textLength="7.5" lengthAdjust="spacingAndGlyphs">5</text>
<text transform="translate(397.7,761.3) rotate(-90)" font-size="16.4" fill="#111" textLength="76.3" lengthAdjust="spacingAndGlyphs">ME 16:0-24</text>
<text x="419.1" y="673.4" font-size="15.7" fill="#111" textLength="7.5" lengthAdjust="spacingAndGlyphs">1</text>
<text x="429.1" y="673.4" font-size="15.7" fill="#111" textLength="7.5" lengthAdjust="spacingAndGlyphs">2</text>
<text x="439.1" y="673.4" font-size="15.7" fill="#111" textLength="7.5" lengthAdjust="spacingAndGlyphs">3</text>
<text x="449.1" y="673.4" font-size="15.7" fill="#111" textLength="7.5" lengthAdjust="spacingAndGlyphs">4</text>
<text x="459.1" y="673.4" font-size="15.7" fill="#111" textLength="7.5" lengthAdjust="spacingAndGlyphs">5</text>
<text transform="translate(447.7,761.3) rotate(-90)" font-size="16.4" fill="#111" textLength="76.3" lengthAdjust="spacingAndGlyphs">ME 16:0-26</text>
<text x="469.1" y="673.4" font-size="15.7" fill="#111" textLength="7.5" lengthAdjust="spacingAndGlyphs">1</text>
<text x="479.1" y="673.4" font-size="15.7" fill="#111" textLength="7.5" lengthAdjust="spacingAndGlyphs">2</text>
<text x="489.1" y="673.4" font-size="15.7" fill="#111" textLength="7.5" lengthAdjust="spacingAndGlyphs">3</text>
<text x="499.1" y="673.4" font-size="15.7" fill="#111" textLength="7.5" lengthAdjust="spacingAndGlyphs">4</text>
<text x="509.1" y="673.4" font-size="15.7" fill="#111" textLength="7.5" lengthAdjust="spacingAndGlyphs">5</text>
<text transform="translate(497.7,761.3) rotate(-90)" font-size="16.4" fill="#111" textLength="76.3" lengthAdjust="spacingAndGlyphs">ME 16:0-28</text>
<text x="519.1" y="673.4" font-size="15.7" fill="#111" textLength="7.5" lengthAdjust="spacingAndGlyphs">1</text>
<text x="529.1" y="673.4" font-size="15.7" fill="#111" textLength="7.5" lengthAdjust="spacingAndGlyphs">2</text>
<text x="539.1" y="673.4" font-size="15.7" fill="#111" textLength="7.5" lengthAdjust="spacingAndGlyphs">3</text>
<text x="549.1" y="673.4" font-size="15.7" fill="#111" textLength="7.5" lengthAdjust="spacingAndGlyphs">4</text>
<text x="559.1" y="673.4" font-size="15.7" fill="#111" textLength="7.5" lengthAdjust="spacingAndGlyphs">5</text>
<text transform="translate(547.7,761.3) rotate(-90)" font-size="16.4" fill="#111" textLength="76.3" lengthAdjust="spacingAndGlyphs">ME 16:0-30</text>
<text x="569.1" y="673.4" font-size="15.7" fill="#111" textLength="7.5" lengthAdjust="spacingAndGlyphs">1</text>
<text x="579.1" y="673.4" font-size="15.7" fill="#111" textLength="7.5" lengthAdjust="spacingAndGlyphs">2</text>
<text x="589.1" y="673.4" font-size="15.7" fill="#111" textLength="7.5" lengthAdjust="spacingAndGlyphs">3</text>
<text x="599.1" y="673.4" font-size="15.7" fill="#111" textLength="7.5" lengthAdjust="spacingAndGlyphs">4</text>
<text x="609.1" y="673.4" font-size="15.7" fill="#111" textLength="7.5" lengthAdjust="spacingAndGlyphs">5</text>
<text transform="translate(597.7,761.3) rotate(-90)" font-size="16.4" fill="#111" textLength="76.3" lengthAdjust="spacingAndGlyphs">ME 16:0-32</text>
<text x="623.6" y="672.8" font-size="14.8" fill="#111" textLength="34.2" lengthAdjust="spacingAndGlyphs">HIVE</text>
</svg></body></html>
